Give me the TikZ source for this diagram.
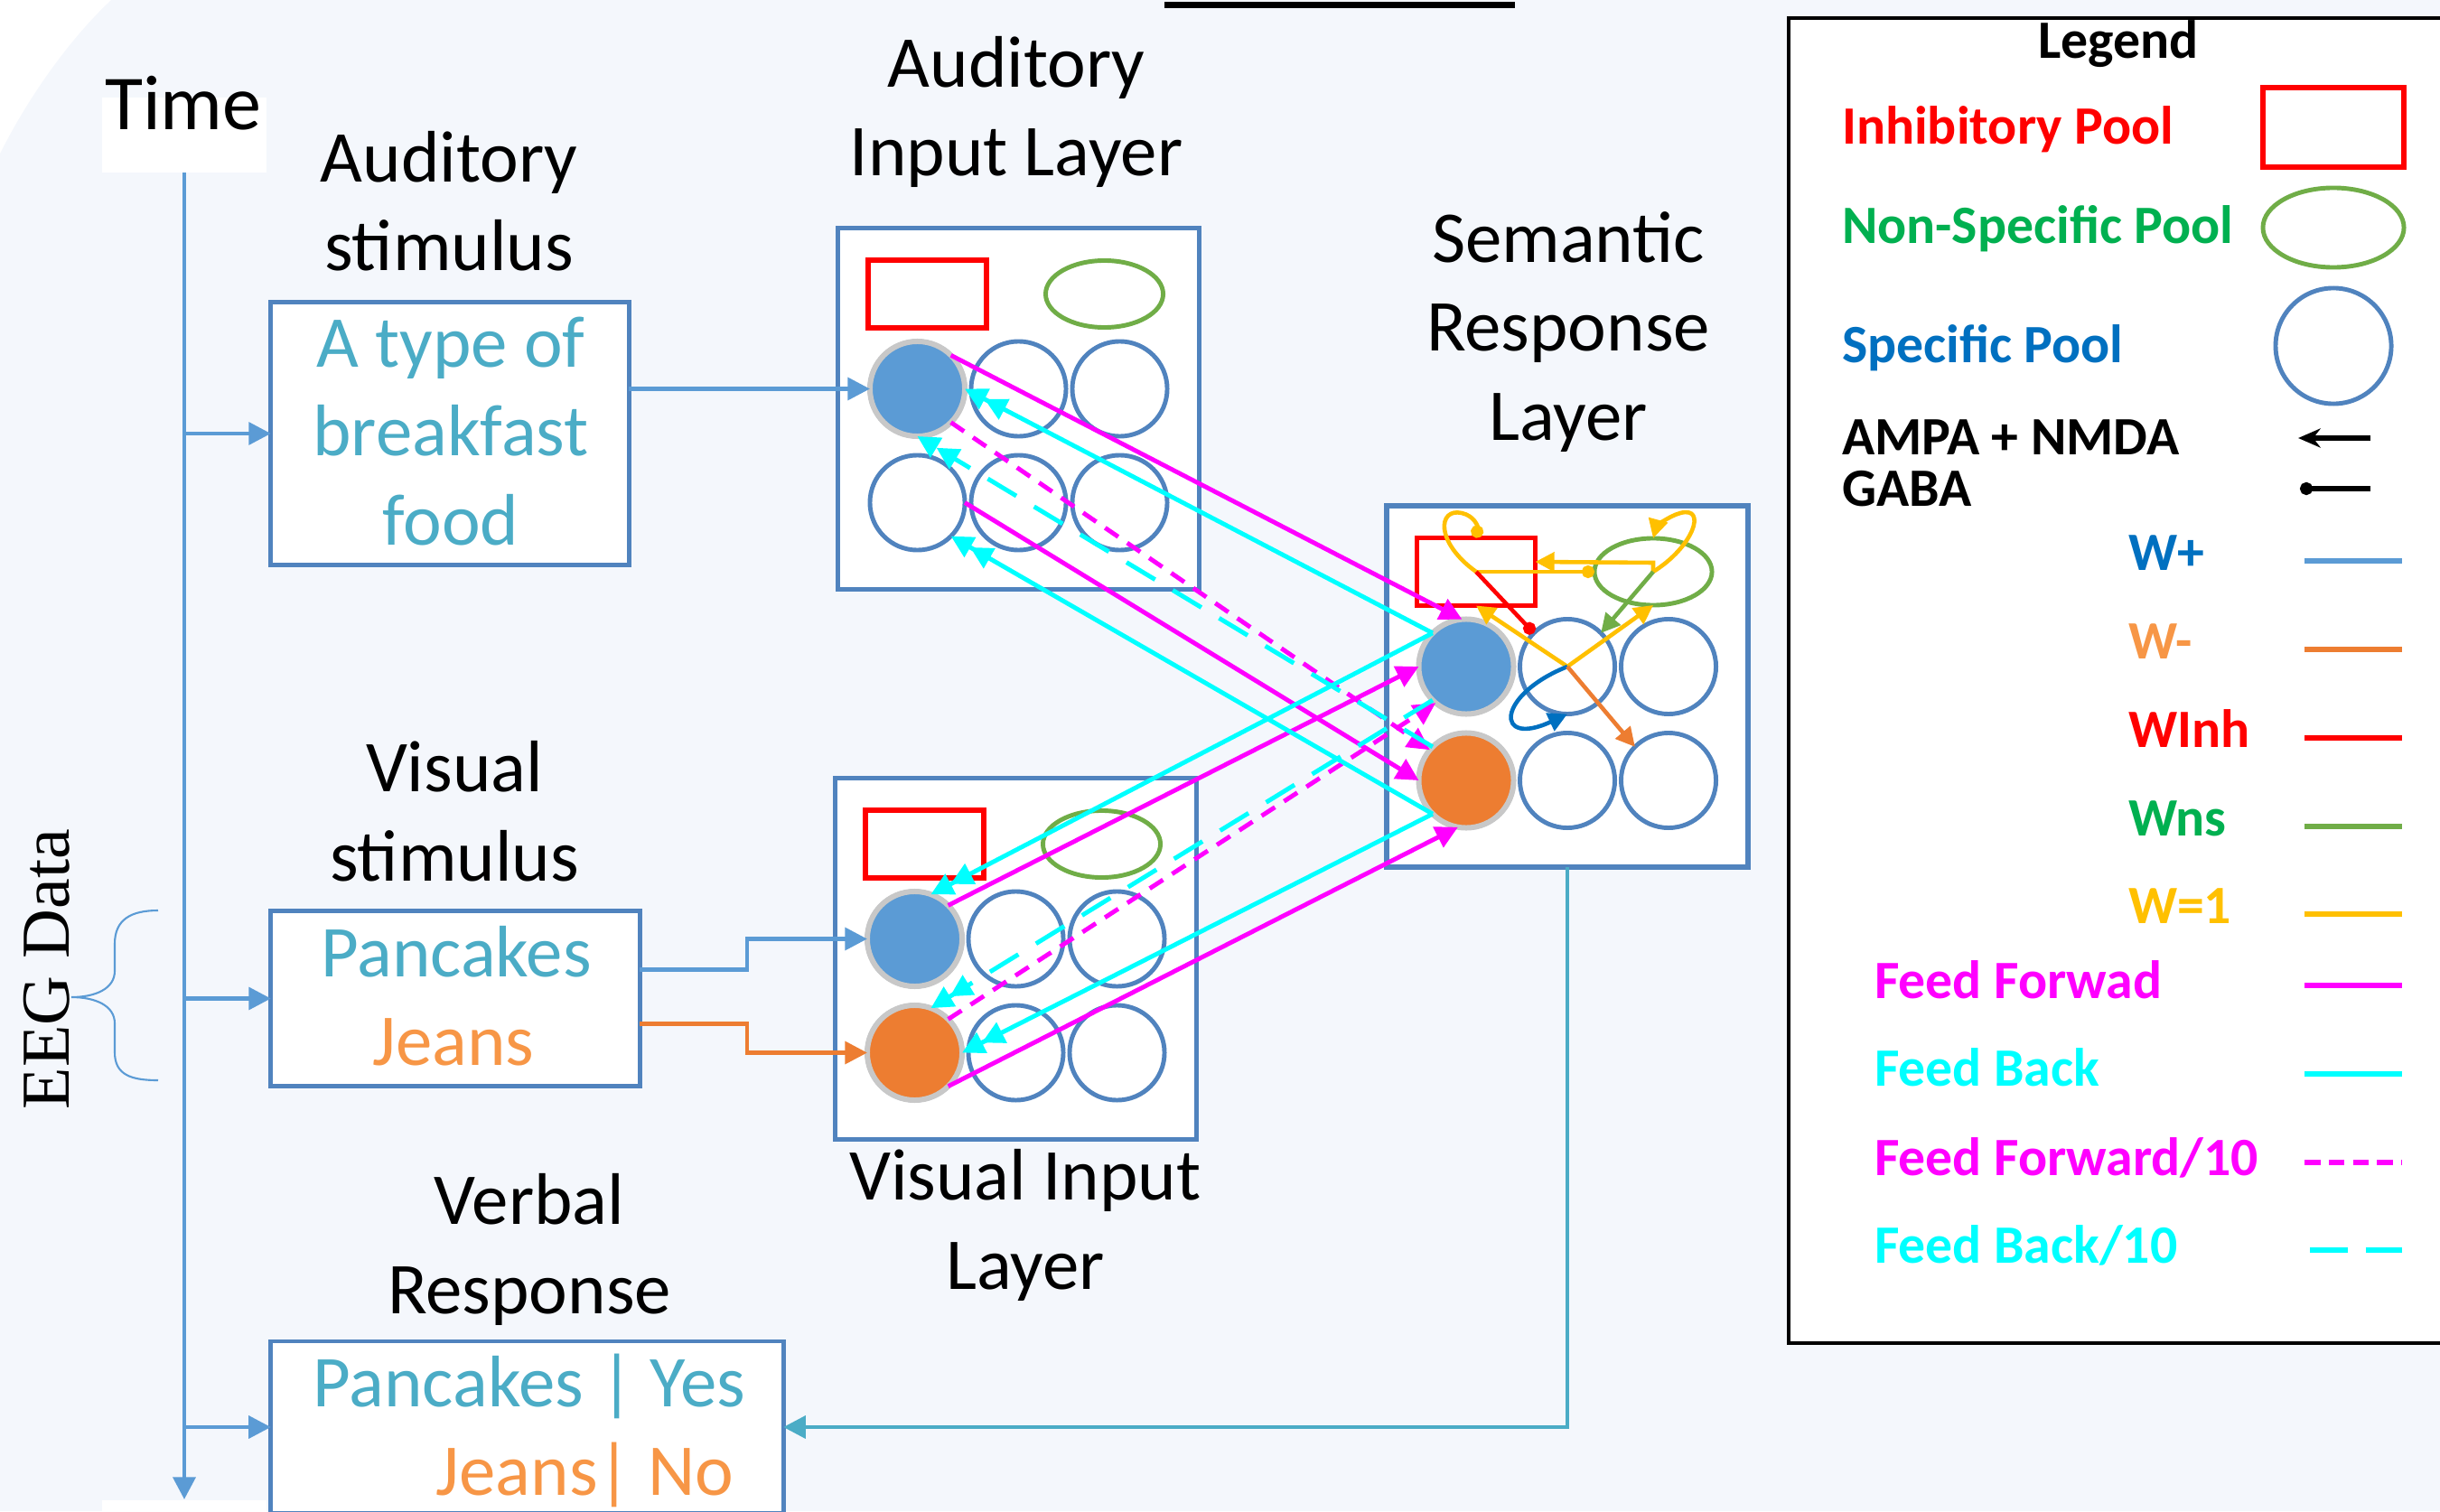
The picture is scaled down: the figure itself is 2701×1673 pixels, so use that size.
\documentclass[tikz,border=0pt]{standalone}
\usepackage{fontspec}
\setmainfont{Carlito}
\newfontfamily\eegfont{Liberation Serif}
\usepackage{xcolor}
\usetikzlibrary{arrows.meta,calc,shapes.geometric}

\definecolor{bgpanel}{HTML}{F4F7FC}
\definecolor{boxline}{HTML}{5083BE}
\definecolor{timeblue}{HTML}{5B9BD5}
\definecolor{poolblue}{HTML}{5B9BD5}
\definecolor{poolorange}{HTML}{ED7D31}
\definecolor{ringgray}{HTML}{C8C8C8}
\definecolor{stimteal}{HTML}{4BACC6}
\definecolor{stimorange}{HTML}{F79646}
\definecolor{nsgreen}{HTML}{70AD47}
\definecolor{txtgreen}{HTML}{00B050}
\definecolor{txtblue}{HTML}{0070C0}
\definecolor{wgold}{HTML}{FFC000}
\definecolor{ffmag}{HTML}{FF00FF}
\definecolor{fbcyan}{HTML}{00FFFF}

\newcommand{\bigtxt}{\fontsize{23}{27.9}\selectfont}
\newcommand{\legtxt}{\fontsize{17}{20}\selectfont\bfseries}

\begin{document}
\begin{tikzpicture}[x=0.01cm, y=-0.01cm,
  every node/.style={inner sep=0pt, outer sep=0pt},
  layertitle/.style={anchor=base, align=center, font=\bigtxt},
  layerbox/.style={draw=boxline, line width=1.6pt, fill=white, minimum width=4cm, minimum height=4cm},
  stimbox/.style={draw=boxline, line width=1.4pt, fill=white},
  inhib/.style={draw=red, line width=1.5pt, fill=white, minimum width=1.31cm, minimum height=0.75cm},
  nonspec/.style={ellipse, draw=nsgreen, line width=1.4pt, fill=white, minimum width=1.3cm, minimum height=0.74cm},
  spec/.style={circle, draw=boxline, line width=1.4pt, fill=white, minimum size=1.05cm},
  poolon/.style={circle, draw=ringgray, line width=1.7pt, fill=#1, minimum size=1.05cm},
  tri/.style={-{Triangle[length=7pt,width=7pt]}},
  wire/.style={line width=1.3pt},
  ff/.style={ffmag, line width=1.4pt, tri},
  fb/.style={fbcyan, line width=1.4pt, -{Triangle[length=7pt,width=7pt]Triangle[length=7pt,width=7pt]}},
  ffweak/.style={ff, dash pattern=on 5pt off 3.4pt},
  fbweak/.style={fb, dash pattern=on 10.5pt off 6.5pt},
  innerarrow/.style={line width=1.3pt, -{Triangle[length=6pt,width=6pt]}},
  gaba/.style={line width=1.3pt, -{Circle[length=4pt]}}
]
  \useasboundingbox (0,0) rectangle (2701,1673);
  \clip (0,0) rectangle (2701,1673);
  \fill[bgpanel] (0,0) rectangle (2701,1673);
  \fill[white] (0,0) -- (123,0) .. controls (75,45) and (30,110) .. (0,170) -- cycle;
  \fill[black] (1289,2) rectangle (1677,9);

  %% Time axis
  \node[fill=white, minimum width=1.81cm, minimum height=0.83cm] (timeBox) at (204,149.5) {};
  \node[anchor=base] (timeLbl) at (203,144) {\fontsize{24.5}{29}\selectfont Time};
  \node[fill=white, minimum width=1.81cm, minimum height=0.3cm] (timeFoot) at (204,1676) {};
  \coordinate (tlEnd) at (204,1660);
  \draw[timeblue, wire, tri] (timeBox.south) -- (tlEnd);

  %% EEG brace
  \node[rotate=90] (eeg) at (52,1073) {\eegfont\fontsize{21.6}{26}\selectfont EEG Data};
  \draw[timeblue, line width=0.6pt] (175,1008) .. controls (145,1008) and (127,1018) .. (127,1045)
    -- (127,1075) .. controls (127,1095) and (105,1104) .. (79,1104)
    .. controls (105,1104) and (127,1113) .. (127,1133) -- (127,1165)
    .. controls (127,1190) and (145,1196) .. (175,1196);

  %% Stimulus boxes
  \node[stimbox, minimum width=3.96cm, minimum height=2.9cm] (audStim) at (498,480) {};
  \node[stimbox, minimum width=4.08cm, minimum height=1.93cm] (visStim) at (504,1105.5) {};
  \node[stimbox, minimum width=5.67cm, minimum height=1.9cm] (verbStim) at (583.5,1580) {};
  \foreach \stim in {audStim, visStim, verbStim}
    \draw[timeblue, wire, tri] (timeBox.south |- \stim.west) -- (\stim.west);

  % multi-line titles sit on the baseline of their last line
  \node[layertitle] (audStimTitle) at (497,300) {Auditory\\stimulus};
  \node[layertitle, text=stimteal] (audWord) at (499,603) {A type of\\breakfast\\food};
  \node[layertitle] (visStimTitle) at (503,975) {Visual\\stimulus};
  \node[layertitle, text=stimteal] (visWordA) at (505,1081) {Pancakes};
  \node[layertitle, text=stimorange] (visWordB) at (502,1179) {Jeans};
  \node[layertitle] (verbTitle) at (586,1454) {Verbal\\Response};
  \node[layertitle, text=stimteal] (verbWordA) at (586,1557) {Pancakes | Yes};
  \node[layertitle, text=stimorange, anchor=base east] (verbWordB) at (812,1655) {Jeans| No};

  %% Layers: inhibitory, non-specific and six specific pools each
  \foreach \lay/\cx/\cy in {aud/1127.5/452.5, sem/1735/760, vis/1124.5/1061.5}{
    \node[layerbox] (\lay Box) at (\cx,\cy) {};
    \node[inhib] (\lay Red) at (\cx-101,\cy-127) {};
    \node[nonspec] (\lay Green) at (\cx+95,\cy-127) {};
    \node[spec] (\lay A) at (\cx-112,\cy-22) {};
    \node[spec] (\lay B) at (\cx,\cy-22) {};
    \node[spec] (\lay C) at (\cx+112,\cy-22) {};
    \node[spec] (\lay D) at (\cx-112,\cy+104) {};
    \node[spec] (\lay E) at (\cx,\cy+104) {};
    \node[spec] (\lay F) at (\cx+112,\cy+104) {};
  }
  \node[poolon=poolblue] (audA) at (audA.center) {};
  \node[poolon=poolblue] (semA) at (semA.center) {};
  \node[poolon=poolorange] (semD) at (semD.center) {};
  \node[poolon=poolblue] (visA) at (visA.center) {};
  \node[poolon=poolorange] (visD) at (visD.center) {};

  \node[layertitle] (audTitle) at (1125,195) {Auditory\\Input Layer};
  \node[layertitle] (semTitle) at (1736,487) {Semantic\\Response\\Layer};
  \node[layertitle] (visTitle) at (1135,1427) {Visual Input\\Layer};

  %% Inputs and response
  \draw[timeblue, wire, tri] (audA.west -| audStim.east) -- (audA.west);
  \draw[timeblue, wire, tri] ($(visStim.east)+(0,-32)$) -- ++(119,0) |- (visA.west);
  \draw[poolorange, wire, tri] ($(visStim.east)+(0,28)$) -- ++(119,0) |- (visD.west);
  \draw[stimteal, wire, tri] (semBox.south) |- (verbStim.east);

  %% Feed forward / feed back
  \draw[ff] (audA.45) -- (semA.95);
  \draw[ff] (audD.east) -- (semD.west);
  \draw[ff] (visA.45) -- (semA.west);
  \draw[ff] (visD.-45) -- (semD.-100);
  \draw[ffweak] (audA.-45) -- (semD.140);
  \draw[ffweak] (visD.45) -- (semA.-130);
  \draw[fb] (semA.135) -- (audA.east);
  \draw[fb] (semD.-135) -- (audD.-45);
  \draw[fb] (semA.135) -- (visA.70);
  \draw[fb] (semD.-135) -- (visD.east);
  \draw[fbweak] (semD.135) -- (audA.south);
  \draw[fbweak] (semA.-135) -- (visD.70);

  %% Semantic layer internal weights
  \draw[wgold, gaba] (semRed.center) .. controls (1588,600) and (1592,562) .. (1618,568)
    .. controls (1632,571) and (1636,583) .. (semRed.north);
  \draw[wgold, gaba] (semRed.center) -- (semGreen.west);
  \draw[wgold, innerarrow] (semGreen.center) -- ++(0,-10) -- ($(semRed.east)+(0,-11)$);
  \draw[wgold, innerarrow] (semGreen.center) .. controls (1875,605) and (1890,560) .. (1860,568)
    .. controls (1845,572) and (1833,585) .. (semGreen.north);
  \draw[wgold, innerarrow] (semB.center) -- (semRed.south);
  \draw[wgold, innerarrow] (semB.center) -- (semGreen.south);
  \draw[txtblue, innerarrow] (semB.center) .. controls (1655,770) and (1655,828) .. (semB.south);
  \draw[poolorange, innerarrow] (semB.center) -- (semF.135);
  \draw[nsgreen, innerarrow] (semGreen.center) -- (semB.45);
  \draw[red, gaba] (semRed.center) -- (semB.135);

  %% Legend
  \draw[black, line width=1pt, fill=white] (1980,20) rectangle (2760,1487);
  \node[anchor=base] (legTitle) at (2345,65) {\legtxt Legend};
  \node[anchor=base west, text=red] (legInhTxt) at (2039,160) {\legtxt Inhibitory Pool};
  \node[anchor=base west, text=txtgreen] (legNsTxt) at (2039,270) {\legtxt Non-Specific Pool};
  \node[anchor=base west, text=txtblue] (legSpTxt) at (2039,401) {\legtxt Specific Pool};
  \node[anchor=base west] (legAmpa) at (2039,503) {\legtxt AMPA + NMDA};
  \node[anchor=base west] (legGaba) at (2039,560) {\legtxt GABA};
  \node[inhib, minimum width=1.56cm, minimum height=0.88cm] (legInh) at (2583,141) {};
  \node[nonspec, minimum width=1.56cm, minimum height=0.88cm] (legNs) at (2583,252) {};
  \node[spec, minimum size=1.28cm] (legSp) at (2583,383) {};
  \draw[black, line width=1.6pt, -{Stealth[length=7pt,width=6pt]}] (2624,485) -- (2544,485);
  \draw[black, line width=1.6pt, -{Circle[length=4pt]}] (2624,541) -- (2546,541);
  \foreach \txt/\tcol/\lcol/\y in {W+/txtblue/poolblue/631, W-/stimorange/poolorange/729,
      WInh/red/red/827, Wns/txtgreen/nsgreen/925, W=1/wgold/wgold/1022}{
    \node[anchor=base west, text=\tcol] at (2356,\y) {\legtxt \txt};
    \draw[\lcol, line width=1.5pt] (2551,\y-10) -- (2659,\y-10);
  }
  \node[anchor=base west, text=ffmag] (legFf) at (2075,1105) {\legtxt Feed Forwad};
  \node[anchor=base west, text=fbcyan] (legFb) at (2075,1202) {\legtxt Feed Back};
  \node[anchor=base west, text=ffmag] (legFfw) at (2075,1301) {\legtxt Feed Forward/10};
  \node[anchor=base west, text=fbcyan] (legFbw) at (2075,1398) {\legtxt Feed Back/10};
  \draw[ffmag, line width=1.5pt] (2551,1091) -- (2659,1091);
  \draw[fbcyan, line width=1.5pt] (2551,1189) -- (2659,1189);
  \draw[ffmag, line width=1.5pt, dash pattern=on 5pt off 2.6pt] (2551,1287) -- (2659,1287);
  \draw[fbcyan, line width=1.5pt, dash pattern=on 11.9pt off 5.7pt] (2557,1384) -- (2659,1384);
\end{tikzpicture}
\end{document}
